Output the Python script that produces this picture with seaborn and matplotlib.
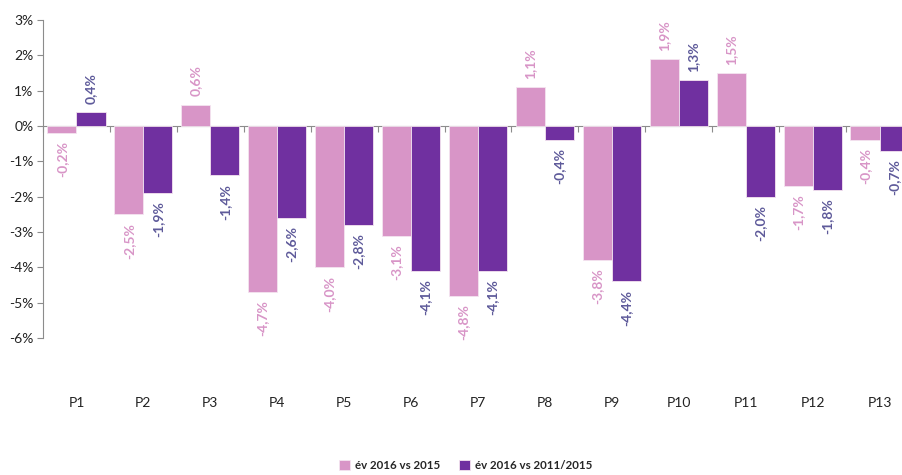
import matplotlib
matplotlib.use('Agg')
import matplotlib.pyplot as plt
import seaborn as sns
import pandas as pd
from matplotlib.ticker import FuncFormatter, FixedLocator

# data (percent)
categories = ['P1', 'P2', 'P3', 'P4', 'P5', 'P6', 'P7', 'P8', 'P9', 'P10', 'P11', 'P12', 'P13']
series_names = ['év 2016 vs 2015', 'év 2016 vs 2011/2015']
vs_2015 = [-0.2, -2.5, 0.6, -4.7, -4.0, -3.1, -4.8, 1.1, -3.8, 1.9, 1.5, -1.7, -0.4]
vs_2011_2015 = [0.4, -1.9, -1.4, -2.6, -2.8, -4.1, -4.1, -0.4, -4.4, 1.3, -2.0, -1.8, -0.7]
y_ticks = [3, 2, 1, 0, -1, -2, -3, -4, -5, -6]

bar_colors = ['#D895C7', '#7030A0']
label_colors = ['#D895C7', '#5E5A9A']

df = pd.DataFrame({
    'cat': categories * 2,
    'serie': [series_names[0]] * len(categories) + [series_names[1]] * len(categories),
    'val': vs_2015 + vs_2011_2015,
})

sns.set_style('white')
plt.rcParams['font.family'] = ['Lato', 'DejaVu Sans']

fig = plt.figure(figsize=(9.02, 4.75), dpi=100)
ax = fig.add_axes([43 / 902, 137 / 475, 870 / 902, 318 / 475])

sns.barplot(data=df, x='cat', y='val', hue='serie', order=categories,
            hue_order=series_names, palette=bar_colors, saturation=1, width=0.87,
            edgecolor='#F4E4F0', linewidth=0.6, ax=ax)

for cont, vals, col in zip(ax.containers, [vs_2015, vs_2011_2015], label_colors):
    labels = [f'{v:.1f}%'.replace('.', ',') for v in vals]
    ax.bar_label(cont, labels=labels, padding=6, rotation=90, color=col,
                 fontsize=10, fontweight='bold')

ax.set_ylim(-6, 3)
ax.set_xlim(-0.5, len(categories) - 0.5)
ax.yaxis.set_major_locator(FixedLocator(y_ticks))
ax.yaxis.set_major_formatter(FuncFormatter(lambda v, p: f'{int(round(v))}%'))
ax.set_xlabel('')
ax.set_ylabel('')

for s in ['top', 'right']:
    ax.spines[s].set_visible(False)
ax.spines['left'].set_color('#8C8C8C')
ax.spines['bottom'].set_color('#8C8C8C')
ax.spines['bottom'].set_position(('data', 0))
ax.spines['bottom'].set_zorder(0)

ax.tick_params(axis='y', which='major', direction='out', length=4, width=0.8,
               color='#8C8C8C', labelsize=10, labelcolor='#222222', pad=3,
               left=True)
ax.xaxis.set_minor_locator(FixedLocator([i - 0.5 for i in range(len(categories) + 1)]))
ax.tick_params(axis='x', which='minor', direction='out', length=4, width=0.8,
               color='#8C8C8C', bottom=True)
ax.tick_params(axis='x', which='major', length=0, pad=195, labelsize=10,
               labelcolor='#222222')

sns.move_legend(ax, 'center', bbox_to_anchor=(0.486, -0.40), ncol=2, title=None,
                frameon=False, handlelength=0.9, handleheight=0.9,
                handletextpad=0.45, columnspacing=1.65,
                prop={'size': 8.3, 'weight': 'bold'})

fig.savefig('out.png', dpi=100)
